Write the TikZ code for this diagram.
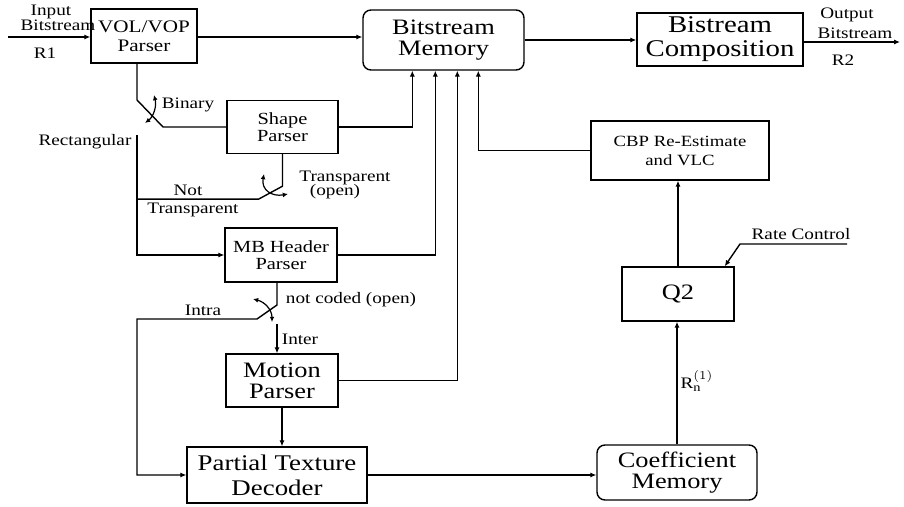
\documentclass[tikz,border=0pt]{standalone}
\usepackage{fontspec}
\setmainfont{Liberation Serif}[FakeStretch=1.2]
\usetikzlibrary{arrows.meta,positioning,calc}
\newcommand{\fsz}[2]{\fontsize{#1}{#2}\selectfont}
\tikzset{
  blk/.style={draw, line width=0.7pt, align=center, inner sep=1pt},
  rblk/.style={blk, rounded corners=4pt},
  ln/.style={line width=0.7pt},
  arr/.style={ln, -{Latex[length=3pt,width=2.6pt]}},
  sw/.style={line width=0.6pt, {Latex[length=2.6pt,width=2.4pt]}-{Latex[length=2.6pt,width=2.4pt]}},
  lbl/.style={font=\fsz{8}{9}, inner sep=0pt, anchor=base}
}
\begin{document}
\begin{tikzpicture}[x=0.5pt, y=-0.5pt]
  \useasboundingbox (0,0) rectangle (904,507);
  % blocks
  \node[blk, minimum width=53pt, minimum height=27pt, font=\fsz{8.8}{9.5}] (vop) at (144,36) {VOL/VOP\\Parser};
  \node[rblk, minimum width=80.5pt, minimum height=30pt, font=\fsz{11}{10.5}] (mem) at (443.5,40) {Bitstream\\Memory};
  \node[blk, minimum width=83pt, minimum height=26.5pt, font=\fsz{12}{12}] (comp) at (720,39.5) {Bistream\\Composition};
  \node[blk, minimum width=55.5pt, minimum height=26.5pt, font=\fsz{8.5}{8.5}] (shape) at (282.5,127) {Shape\\Parser};
  \node[blk, minimum width=56pt, minimum height=27pt, font=\fsz{8.5}{8.5}] (mbh) at (281,255) {MB Header\\Parser};
  \node[blk, minimum width=56pt, minimum height=26.5pt, font=\fsz{11}{10.5}] (mot) at (282,380.5) {Motion\\Parser};
  \node[blk, minimum width=90pt, minimum height=28pt, font=\fsz{11.2}{12.5}] (ptd) at (277,475) {Partial Texture\\Decoder};
  \node[blk, minimum width=89pt, minimum height=29.5pt, font=\fsz{7.8}{9.5}] (cbp) at (680,150.5) {CBP Re-Estimate\\and VLC};
  \node[blk, minimum width=56pt, minimum height=27pt, font=\fsz{11}{12}] (q2) at (678,294) {Q2};
  \node[rblk, minimum width=80pt, minimum height=27.5pt, font=\fsz{11}{10.5}] (coef) at (677,472.5) {Coefficient\\Memory};

  % main stream
  \coordinate (in) at (8,37);
  \coordinate (out) at (900,42);
  \draw[arr] (in) -- (in -| vop.west);
  \draw[arr] (vop.east |- in) -- (in -| mem.west);
  \draw[arr] (mem.east) -- (mem.east -| comp.west);
  \draw[arr] (comp.east |- out) -- (out);

  % into the bitstream memory
  \draw[arr] (shape.east) -| ($(mem.south west)+(50,0)$);
  \draw[arr] (mbh.east) -| ($(mem.south west)+(73,0)$);
  \draw[arr] (mot.east) -| ($(mem.south west)+(95,0)$);
  \draw[arr] (cbp.west) -| ($(mem.south west)+(116,0)$);

  % shape switch
  \coordinate (s1) at (137,100);
  \coordinate (s1b) at (163,127);
  \coordinate (s1r) at (137,135);
  \draw[ln] (vop.south -| s1) -- (s1) -- (s1b) -- (shape.west);
  \draw[sw] (154,95) .. controls (157,107) and (153,117) .. (145,123);
  \draw[arr] (s1r) |- (mbh.west);

  % transparency switch
  \coordinate (s2) at ($(shape.south)+(0,32)$);
  \draw[ln] (shape.south) -- (s2) -- ++(-24,13) coordinate (s2b) -- (s2b -| s1r);
  \draw[sw] (264,174) .. controls (261,190) and (272,197) .. (288,194);

  % MB header switch
  \coordinate (s3) at (277,305);
  \coordinate (s3i) at (277,324);
  \draw[arr] (mbh.south -| s3) -- (s3) -- (257,319) -- (137,319) |- (ptd.west);
  \draw[sw] (253,299) .. controls (265,302) and (272,310) .. (272,322);
  \draw[arr] (s3i) -- (s3i |- mot.north);

  % texture path
  \draw[arr] (mot.south) -- (mot.south |- ptd.north);
  \draw[arr] (ptd.east) -- (ptd.east -| coef.west);
  \draw[arr] (coef.north) -- (coef.north |- q2.south);
  \draw[arr] (q2.north) -- (q2.north |- cbp.south);

  % rate control
  \coordinate (rc) at (847,244);
  \coordinate (rck) at (740,244);
  \draw[arr] (rc) -- (rck) -- ($(q2.north east)+(-10,0)$);

  % labels
  \node[lbl] (inlbl) at (51,16) {Input};
  \node[lbl] (inlbl2) at (58,31) {Bitstream};
  \node[lbl] (r1) at (45,59) {R1};
  \node[lbl] (outlbl) at (847,19) {Output};
  \node[lbl] (outlbl2) at (855,39) {Bitstream};
  \node[lbl] (r2) at (843,66) {R2};
  \node[lbl] (bin) at (188,109) {Binary};
  \node[lbl] (rect) at (85,146) {Rectangular};
  \node[lbl] (tr) at (345,182) {Transparent};
  \node[lbl] (trop) at (335,196) {(open)};
  \node[lbl] (nt1) at (188,196) {Not};
  \node[lbl] (nt2) at (193,214) {Transparent};
  \node[lbl] (nco) at (351,304) {not coded (open)};
  \node[lbl] (intra) at (203,316) {Intra};
  \node[lbl] (inter) at (300,345) {Inter};
  \node[lbl] (rate) at (801,240) {Rate Control};
  \node[lbl] (rn) at (697,388) {R$_{\mathrm{n}}^{(1)}$};
\end{tikzpicture}
\end{document}
